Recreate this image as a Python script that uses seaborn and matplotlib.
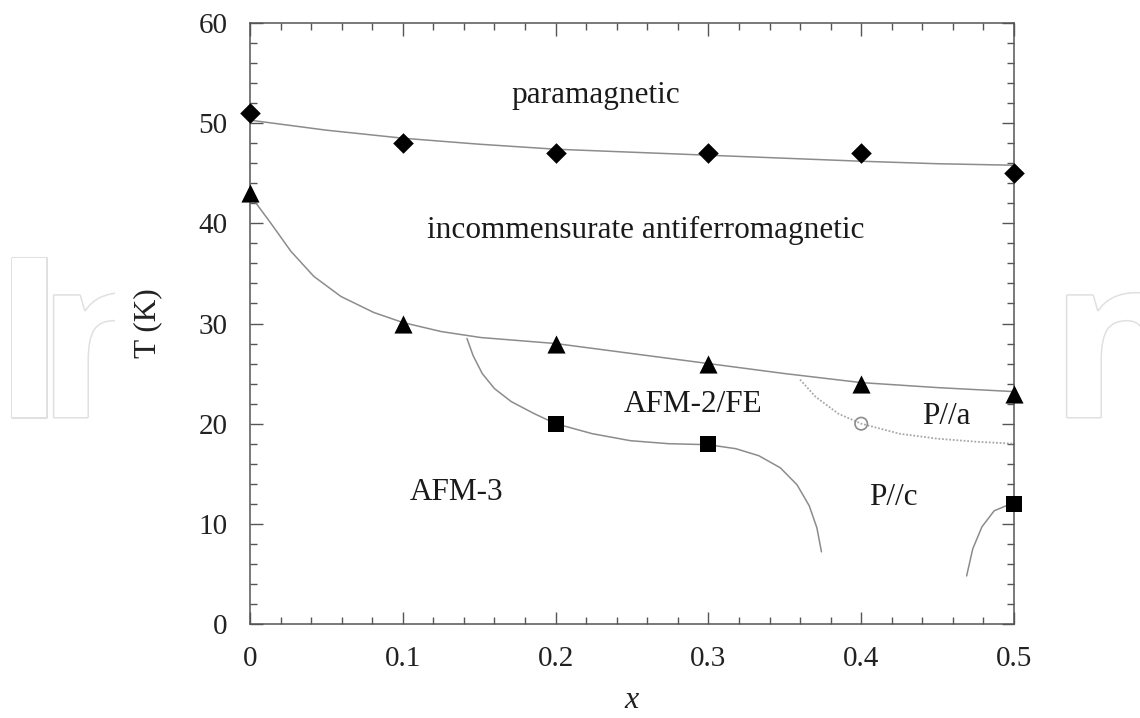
import matplotlib
matplotlib.use("Agg")
import matplotlib.pyplot as plt
import matplotlib.patheffects as pe
from matplotlib.patches import Rectangle
from matplotlib.ticker import MultipleLocator, FuncFormatter
import seaborn as sns

# Measured transition temperatures vs. composition x
x_conc = [0.0, 0.1, 0.2, 0.3, 0.4, 0.5]
T_para = [51, 48, 47, 47, 47, 45]          # paramagnetic -> incommensurate AFM
T_icm = [43, 30, 28, 26, 24, 23]           # incommensurate -> commensurate
x_sq = [0.2, 0.3, 0.5]
T_sq = [20, 18, 12]                        # AFM-2/FE -> AFM-3 / P//c
x_open = [0.4]
T_open = [20]                              # P//a boundary

# Guide-to-the-eye phase boundaries
para_x = [0.0, 0.05, 0.1, 0.15, 0.2, 0.25, 0.3, 0.35, 0.4, 0.45, 0.5]
para_T = [50.3, 49.3, 48.5, 47.9, 47.4, 47.1, 46.8, 46.5, 46.2, 45.95, 45.8]

icm_x = [0.0, 0.004, 0.0137, 0.0268, 0.0418, 0.0595, 0.081, 0.1, 0.125, 0.151,
         0.2, 0.25, 0.3, 0.35, 0.4, 0.45, 0.5]
icm_T = [43.0, 42.0, 40.0, 37.2, 34.7, 32.7, 31.1, 30.1, 29.2, 28.6,
         28.0, 27.0, 26.0, 25.0, 24.1, 23.6, 23.2]

afm3_x = [0.142, 0.146, 0.152, 0.160, 0.171, 0.186, 0.2, 0.224, 0.249, 0.274, 0.3,
          0.318, 0.333, 0.347, 0.358, 0.366, 0.371, 0.374]
afm3_T = [28.5, 26.8, 25.0, 23.5, 22.2, 21.0, 20.0, 19.0, 18.3, 18.0, 17.9,
          17.5, 16.8, 15.6, 13.9, 11.8, 9.6, 7.2]

pa_x = [0.360, 0.370, 0.385, 0.4, 0.425, 0.45, 0.475, 0.5]
pa_T = [24.4, 22.7, 21.0, 20.0, 19.0, 18.5, 18.2, 18.0]

pc_x = [0.469, 0.473, 0.479, 0.487, 0.498]
pc_T = [4.8, 7.5, 9.7, 11.3, 12.0]

region_labels = ["paramagnetic", "incommensurate antiferromagnetic",
                 "AFM-2/FE", "AFM-3", "P//a", "P//c"]
region_x = [0.226, 0.259, 0.290, 0.135, 0.456, 0.421]
region_T = [52.8, 39.3, 21.9, 13.1, 20.7, 12.6]

sns.set_theme(style="ticks")
plt.rcParams["font.family"] = ["Liberation Serif", "DejaVu Serif"]

fig = plt.figure(figsize=(11.4, 7.18), dpi=100, facecolor="white")
ax = fig.add_axes([250 / 1140, 1 - 624 / 718, 764 / 1140, 601 / 718])
ax.set_facecolor("white")
ax.set_zorder(0)

# faint background lettering behind the chart panel
wm_fx = dict(color="white", fontsize=160, family="Open Sans", fontweight="bold",
             path_effects=[pe.withStroke(linewidth=2.2, foreground="#e0e0e0")],
             zorder=-3, va="baseline", ha="left")
fig.text(-8 / 1140, 1 - 417 / 718, "I", **wm_fx)
fig.text(37 / 1140, 1 - 417 / 718, "n", **wm_fx)
fig.text(1050 / 1140, 1 - 417 / 718, "n", **wm_fx)
fig.add_artist(Rectangle((115 / 1140, 0), (1042 - 115) / 1140, 1,
                         transform=fig.transFigure, facecolor="white",
                         edgecolor="none", zorder=-2))

line_col = "#8c8c8c"
for xs, ts in [(para_x, para_T), (icm_x, icm_T), (afm3_x, afm3_T), (pc_x, pc_T)]:
    sns.lineplot(x=xs, y=ts, ax=ax, sort=False, estimator=None,
                 color=line_col, linewidth=1.1, zorder=2)
sns.lineplot(x=pa_x, y=pa_T, ax=ax, sort=False, estimator=None,
             color="#a8a8a8", linewidth=1.3, linestyle=(0, (1, 1)), zorder=2)

sns.scatterplot(x=x_conc, y=T_para, ax=ax, marker="D", s=110, color="black",
                linewidth=0, zorder=4, clip_on=False)
sns.scatterplot(x=x_conc, y=T_icm, ax=ax, marker="^", s=170, color="black",
                linewidth=0, zorder=4, clip_on=False)
sns.scatterplot(x=x_sq, y=T_sq, ax=ax, marker="s", s=145, color="black",
                linewidth=0, zorder=4, clip_on=False)
sns.scatterplot(x=x_open, y=T_open, ax=ax, marker="o", s=80, facecolor="none",
                edgecolor="#8c8c8c", linewidth=1.2, zorder=4)

for lab, lx, lt in zip(region_labels, region_x, region_T):
    ax.text(lx, lt, lab, fontsize=22.5, ha="center", va="center",
            color="#1a1a1a", zorder=5)

ax.set_xlim(0, 0.5)
ax.set_ylim(0, 60)
ax.xaxis.set_major_locator(MultipleLocator(0.1))
ax.xaxis.set_minor_locator(MultipleLocator(0.02))
ax.yaxis.set_major_locator(MultipleLocator(10))
ax.yaxis.set_minor_locator(MultipleLocator(2))
ax.xaxis.set_major_formatter(FuncFormatter(lambda v, p: "0" if abs(v) < 1e-9 else f"{v:.1f}"))

spine_col = "#555555"
for sp in ax.spines.values():
    sp.set_visible(True)
    sp.set_color(spine_col)
    sp.set_linewidth(1.1)
ax.tick_params(which="both", direction="in", top=True, right=True,
               color=spine_col, width=1.0, labelsize=21, labelcolor="#222222")
ax.tick_params(which="major", length=9, pad=16)
ax.tick_params(which="minor", length=5)

ax.set_xlabel("x", fontsize=23, fontstyle="italic", color="#222222", labelpad=10)
ax.set_ylabel("T (K)", fontsize=22.5, color="#222222", labelpad=26)

fig.savefig("out.png", dpi=100, facecolor="white")
